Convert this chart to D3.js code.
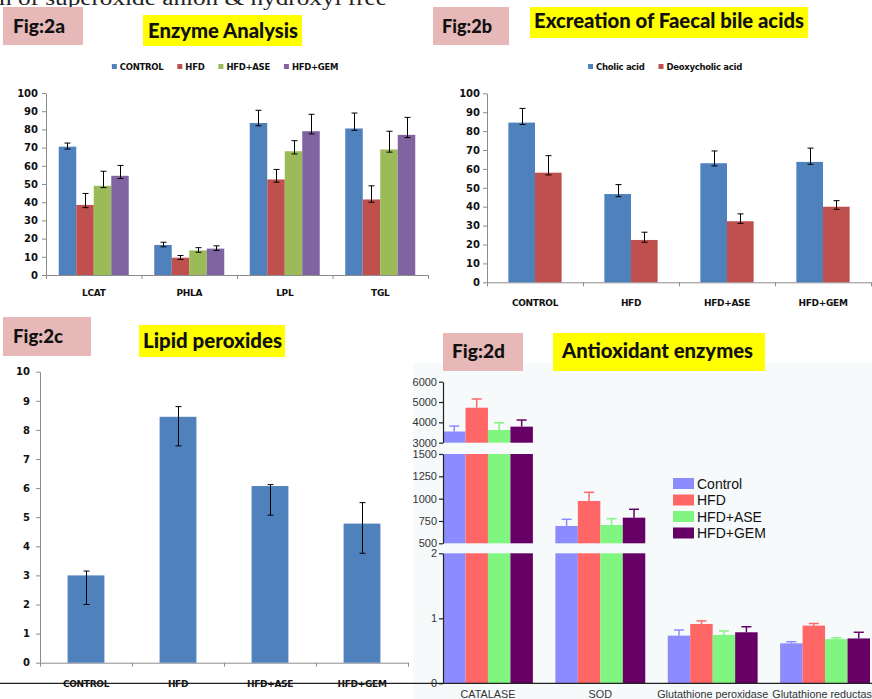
<!DOCTYPE html>
<html lang="en">
<head>
<meta charset="utf-8">
<title>Fig 2</title>
<script src="https://cdn.jsdelivr.net/npm/d3@7"></script>
<style>
  body { margin: 0; background: #fff; }
  svg { display: block; }
</style>
</head>
<body>
<script>
// ---------- data ----------
// Fig 2a  Enzyme Analysis
const enzymeCats = ["LCAT", "PHLA", "LPL", "TGL"];
const enzymeGroups = ["CONTROL", "HFD", "HFD+ASE", "HFD+GEM"];
const enzymeControl = [70.5, 16.5, 83.5, 80.5];
const enzymeControlUp = [2, 1.5, 7, 8.5];
const enzymeControlDown = [1.3, 1, 1.5, 1];
const enzymeHFD = [38.5, 9.5, 52.5, 41.5];
const enzymeHFDUp = [6.3, 1.2, 5.5, 7.5];
const enzymeHFDDown = [1.5, 1, 1.5, 1.5];
const enzymeASE = [49, 13.5, 68, 69];
const enzymeASEUp = [8, 1.5, 5.8, 10];
const enzymeASEDown = [1, 1, 1.5, 1.5];
const enzymeGEM = [54.5, 14.5, 79, 77];
const enzymeGEMUp = [5.7, 1.5, 9.3, 9.6];
const enzymeGEMDown = [1.5, 1, 1.5, 1.5];

// Fig 2b  Excreation of Faecal bile acids
const bileCats = ["CONTROL", "HFD", "HFD+ASE", "HFD+GEM"];
const bileGroups = ["Cholic acid", "Deoxycholic acid"];
const cholic = [84.5, 46.7, 63, 63.7];
const cholicUp = [7.5, 5, 6.5, 7.3];
const cholicDown = [1, 1.4, 1.4, 1.3];
const deoxycholic = [58, 22.4, 32.3, 40];
const deoxycholicUp = [9, 4.1, 3.9, 3.2];
const deoxycholicDown = [1.2, 1.2, 1.1, 1.4];

// Fig 2c  Lipid peroxides
const lipidCats = ["CONTROL", "HFD", "HFD+ASE", "HFD+GEM"];
const lipid = [3.0, 8.45, 6.07, 4.78];
const lipidUp = [0.15, 0.35, 0.05, 0.72];
const lipidDown = [1.0, 1.0, 1.0, 1.02];

// Fig 2d  Antioxidant enzymes (broken y axis)
const aoxCats = ["CATALASE", "SOD", "Glutathione peroxidase", "Glutathione reductase"];
const aoxGroups = ["Control", "HFD", "HFD+ASE", "HFD+GEM"];
const aoxControl = [3550, 694, 0.733, 0.615];
const aoxControlErr = [270, 75, 0.087, 0.025];
const aoxHFD = [4720, 974, 0.913, 0.887];
const aoxHFDErr = [430, 97, 0.047, 0.033];
const aoxASE = [3625, 705, 0.744, 0.68];
const aoxASEErr = [355, 71, 0.061, 0.02];
const aoxGEM = [3790, 787, 0.785, 0.69];
const aoxGEMErr = [325, 94, 0.085, 0.095];
const aoxSegDomains = [[3000, 6000], [500, 1500], [0, 2]];
const aoxSegTicks = [[3000, 4000, 5000, 6000], [500, 750, 1000, 1250, 1500], [0, 1, 2]];

// ---------- styles ----------
const excelColors = ["#4f81bd", "#c0504d", "#9bbb59", "#8064a2"];
const aoxColors = ["#8c8cff", "#ff6666", "#80f580", "#660066"];
const axisGrey = "#8c8c8c";
const pink = "#e6b9b8";
const yellow = "#ffff00";
const titleFont = "Lato, 'Open Sans', sans-serif";
const excelFont = "'DejaVu Sans', Verdana, sans-serif";

const svg = d3.select("body").append("svg")
  .attr("width", 872)
  .attr("height", 699);

// line of body text cut at the top of the page
svg.append("text")
  .attr("x", -1).attr("y", 5)
  .attr("font-family", "'Liberation Serif', 'DejaVu Serif', serif")
  .attr("font-size", 20)
  .attr("textLength", 388).attr("lengthAdjust", "spacingAndGlyphs")
  .attr("fill", "#222")
  .text("n of superoxide anion & hydroxyl free");

// panel labels and titles
function tag(bx, by, bw, bh, fill, tx, ty, tw, size, label) {
  svg.append("rect").attr("x", bx).attr("y", by).attr("width", bw).attr("height", bh).attr("fill", fill);
  svg.append("text").attr("x", tx).attr("y", ty)
    .attr("font-family", titleFont).attr("font-weight", 900).attr("font-size", size)
    .attr("textLength", tw).attr("lengthAdjust", "spacingAndGlyphs")
    .attr("fill", "#111").text(label);
}

// ---------- Excel style grouped bars ----------
function excelChart(cfg) {
  const g = svg.append("g");
  const x = d3.scaleBand().domain(cfg.cats).range([cfg.left, cfg.right])
    .paddingInner(cfg.pad).paddingOuter(cfg.pad / 2);
  const xs = d3.scaleBand().domain(d3.range(cfg.series.length)).range([0, x.bandwidth()]);
  const y = d3.scaleLinear().domain([0, cfg.max]).range([cfg.bottom, cfg.top]);

  const yAxis = g.append("g").attr("transform", `translate(${cfg.left},0)`)
    .call(d3.axisLeft(y).tickValues(d3.range(0, cfg.max + 1e-9, cfg.step))
      .tickSize(4).tickSizeOuter(0).tickPadding(cfg.tickPad));
  yAxis.selectAll("path, line").attr("stroke", axisGrey);
  yAxis.selectAll("text").attr("font-family", excelFont).attr("font-size", 10)
    .attr("font-weight", "bold").attr("fill", "#111");

  const xAxis = g.append("g").attr("transform", `translate(0,${cfg.bottom})`)
    .call(d3.axisBottom(x).tickSize(0).tickSizeOuter(0).tickPadding(cfg.labelPad));
  xAxis.select(".domain").attr("stroke", axisGrey);
  xAxis.selectAll("text").attr("font-family", excelFont).attr("font-size", 9)
    .attr("font-weight", "bold").attr("letter-spacing", -0.3).attr("fill", "#111");

  // Excel puts its tick marks between the categories
  g.append("g").selectAll("line").data(d3.range(cfg.cats.length + 1)).join("line")
    .attr("x1", i => cfg.left + i * x.step() + 0.5)
    .attr("x2", i => cfg.left + i * x.step() + 0.5)
    .attr("y1", cfg.bottom).attr("y2", cfg.bottom + 4)
    .attr("stroke", axisGrey);

  cfg.series.forEach((s, si) => {
    g.append("g").selectAll("rect").data(s.mean).join("rect")
      .attr("x", (d, i) => x(cfg.cats[i]) + xs(si))
      .attr("y", d => y(d))
      .attr("width", xs.bandwidth())
      .attr("height", d => y(0) - y(d))
      .attr("fill", cfg.colors[si]);
  });

  cfg.series.forEach((s, si) => {
    const eg = g.append("g").attr("stroke", "#000").attr("stroke-width", 1);
    s.mean.forEach((m, i) => {
      const cx = Math.round(x(cfg.cats[i]) + xs(si) + xs.bandwidth() / 2) + 0.5;
      const y1 = y(m + s.up[i]), y2 = y(m - s.down[i]);
      eg.append("line").attr("x1", cx).attr("x2", cx).attr("y1", y1).attr("y2", y2);
      [y1, y2].forEach(yy => eg.append("line")
        .attr("x1", cx - 3).attr("x2", cx + 3).attr("y1", yy).attr("y2", yy));
    });
  });

  if (cfg.legendY) {
    const lg = g.append("g");
    let cx = 0;
    cfg.series.forEach((s, si) => {
      lg.append("rect").attr("x", cx).attr("y", -6).attr("width", 5).attr("height", 5)
        .attr("fill", cfg.colors[si]);
      const t = lg.append("text").attr("x", cx + 8).attr("y", 0)
        .attr("font-family", excelFont).attr("font-size", 8.5).attr("font-weight", "bold")
        .attr("letter-spacing", -0.3).attr("fill", "#111").text(s.name);
      cx += 8 + t.node().getComputedTextLength() + 14;
    });
    lg.attr("transform", `translate(${cfg.legendX - (cx - 14) / 2},${cfg.legendY})`);
  }
}

// Fig 2a
tag(3, 7, 80, 38, pink, 13, 33, 52, 18, "Fig:2a");
tag(143, 15, 159, 31, yellow, 148, 37.5, 150, 20, "Enzyme Analysis");
excelChart({
  cats: enzymeCats, left: 46, right: 428, top: 93, bottom: 275,
  max: 100, step: 10, pad: 0.267, tickPad: 4, labelPad: 15,
  colors: excelColors, legendX: 225, legendY: 70,
  series: [
    { name: enzymeGroups[0], mean: enzymeControl, up: enzymeControlUp, down: enzymeControlDown },
    { name: enzymeGroups[1], mean: enzymeHFD, up: enzymeHFDUp, down: enzymeHFDDown },
    { name: enzymeGroups[2], mean: enzymeASE, up: enzymeASEUp, down: enzymeASEDown },
    { name: enzymeGroups[3], mean: enzymeGEM, up: enzymeGEMUp, down: enzymeGEMDown }
  ]
});

// Fig 2b
tag(433, 7, 76, 38, pink, 442, 33, 50, 18, "Fig:2b");
tag(530, 7, 278, 31, yellow, 534, 28, 270, 20, "Excreation of Faecal bile acids");
excelChart({
  cats: bileCats, left: 487, right: 871, top: 93.3, bottom: 282.3,
  max: 100, step: 10, pad: 0.445, tickPad: 3, labelPad: 17,
  colors: excelColors, legendX: 665, legendY: 70,
  series: [
    { name: bileGroups[0], mean: cholic, up: cholicUp, down: cholicDown },
    { name: bileGroups[1], mean: deoxycholic, up: deoxycholicUp, down: deoxycholicDown }
  ]
});

// Fig 2c
tag(3, 317, 88, 39, pink, 13, 343, 50, 18, "Fig:2c");
tag(139, 325, 146, 32, yellow, 143, 347.5, 139, 20, "Lipid peroxides");
excelChart({
  cats: lipidCats, left: 40, right: 408, top: 371.7, bottom: 662.7,
  max: 10, step: 1, pad: 0.6, tickPad: 6, labelPad: 18,
  colors: excelColors,
  series: [{ name: "Lipid peroxides", mean: lipid, up: lipidUp, down: lipidDown }]
});

// ---------- Fig 2d : GraphPad style with broken axis ----------
svg.append("rect").attr("x", 413).attr("y", 363).attr("width", 459).attr("height", 336)
  .attr("fill", "#f6fafb");
tag(443, 333, 80, 38, pink, 452, 358, 53, 18, "Fig:2d");
tag(553, 333, 212, 38, yellow, 562, 358, 191, 20, "Antioxidant enzymes");

(function () {
  const g = svg.append("g");
  const left = 443, right = 870;
  const segRanges = [[442.7, 381.7], [543.3, 454], [683.3, 553.3]];
  const series = [
    { name: aoxGroups[0], mean: aoxControl, err: aoxControlErr },
    { name: aoxGroups[1], mean: aoxHFD, err: aoxHFDErr },
    { name: aoxGroups[2], mean: aoxASE, err: aoxASEErr },
    { name: aoxGroups[3], mean: aoxGEM, err: aoxGEMErr }
  ];
  const x = d3.scaleBand().domain(aoxCats).range([left, right]).paddingInner(0.2).paddingOuter(0);
  const xs = d3.scaleBand().domain(d3.range(series.length)).range([0, x.bandwidth()]);
  const ys = aoxSegDomains.map((d, k) => d3.scaleLinear().domain(d).range(segRanges[k]));

  // bars, cut into each axis segment
  series.forEach((s, si) => {
    s.mean.forEach((v, i) => {
      ys.forEach(sc => {
        const [lo, hi] = sc.domain();
        if (v <= lo) return;
        const top = Math.min(v, hi);
        g.append("rect")
          .attr("x", x(aoxCats[i]) + xs(si)).attr("width", xs.bandwidth())
          .attr("y", sc(top)).attr("height", sc(lo) - sc(top))
          .attr("fill", aoxColors[si]);
      });
    });
  });

  // error bars (upper only)
  series.forEach((s, si) => {
    s.mean.forEach((v, i) => {
      const sc = ys.find(q => v >= q.domain()[0] && v <= q.domain()[1]);
      const cx = x(aoxCats[i]) + xs(si) + xs.bandwidth() / 2;
      const ye = sc(v + s.err[i]);
      g.append("line").attr("x1", cx).attr("x2", cx).attr("y1", sc(v)).attr("y2", ye)
        .attr("stroke", aoxColors[si]).attr("stroke-width", 1.5);
      g.append("line").attr("x1", cx - 5).attr("x2", cx + 5).attr("y1", ye).attr("y2", ye)
        .attr("stroke", aoxColors[si]).attr("stroke-width", 1.5);
    });
  });

  // y axis segments
  ys.forEach((sc, k) => {
    const ax = g.append("g").attr("transform", `translate(${left},0)`)
      .call(d3.axisLeft(sc).tickValues(aoxSegTicks[k]).tickSize(4).tickSizeOuter(0)
        .tickPadding(2).tickFormat(d3.format("d")));
    ax.selectAll("path, line").attr("stroke", "#222").attr("stroke-width", 1.2);
    ax.selectAll("text").attr("font-family", "'Liberation Sans', Arial, sans-serif")
      .attr("font-size", 11).attr("fill", "#333");
  });

  // x axis
  const xa = g.append("g").attr("transform", `translate(0,${segRanges[2][0]})`)
    .call(d3.axisBottom(x).tickSize(0).tickSizeOuter(0).tickPadding(7));
  xa.select(".domain").attr("stroke", "#222").attr("stroke-width", 1.2)
    .attr("d", `M0,0H872`);
  xa.selectAll("text").attr("font-family", "'Liberation Sans', Arial, sans-serif")
    .attr("font-size", 10.8).attr("fill", "#333");

  // legend
  const lg = g.append("g").attr("transform", "translate(673,478)");
  series.forEach((s, si) => {
    lg.append("rect").attr("x", 0).attr("y", si * 16.5).attr("width", 21).attr("height", 11)
      .attr("fill", aoxColors[si]);
    lg.append("text").attr("x", 24).attr("y", si * 16.5 + 10.5)
      .attr("font-family", "'Liberation Sans', Arial, sans-serif").attr("font-size", 14)
      .attr("fill", "#111").text(s.name);
  });
})();
</script>
</body>
</html>
